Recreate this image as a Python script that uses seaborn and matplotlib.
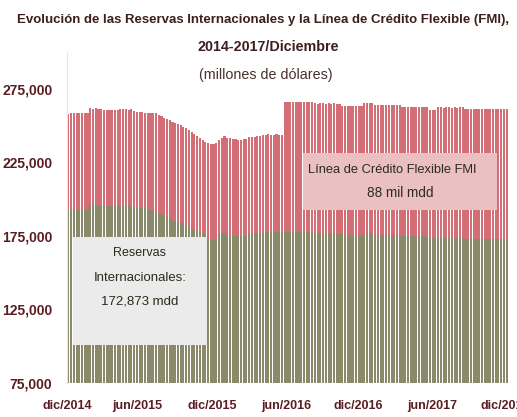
import matplotlib
matplotlib.use("Agg")
import matplotlib.pyplot as plt
import seaborn as sns
import pandas as pd
from matplotlib.patches import Rectangle

# DATOS: semanal, dic/2014 - dic/2017 (millones de dolares)
# reservas internacionales (parte verde)
reservas = [
    192300, 192500, 192600, 192400, 192500, 192700, 192400, 192600,
    196200, 196400, 196300, 196100, 196300,
    195500, 195300, 195400, 195600, 195200, 195400, 195500, 195300, 195600, 195400, 195200,
    194300, 194100, 194000, 194200, 193900,
    193100, 192600, 192000,
    191400, 190600,
    189600, 188600, 187800,
    186900, 186000, 185300,
    184700, 183800,
    182800, 181600, 180600,
    179600, 178800, 178000,
    177300, 176600, 176300,
    172600, 172400, 172500, 172700,
    176500, 176900, 176700,
    175500, 175200, 175100, 175000, 175200, 175100, 174900, 175100,
    176700, 176900, 177000, 176800, 176900, 177100,
    177600, 177800, 177900, 177700, 177800, 178000, 177900,
    177600, 177700, 177500, 177800, 177600, 177400, 177500, 177700, 177300,
    177200, 177400, 177100, 177000, 177200, 176900, 176800, 177000, 176700,
    176500, 176400, 176600, 176200,
    175400, 175300, 175200, 175400, 175100, 175300, 175200,
    176800, 176900, 176700, 176500,
    175900, 175800, 175700, 175900, 175800, 175600, 175700, 175500, 175600, 175400,
    174900, 174700, 174800, 174600, 174700, 174500, 174600, 174800, 174600, 174400,
    173700, 173500, 173600, 173400, 173500, 173300, 173600, 173500, 173400, 173200,
    173300, 173500, 173400, 173200, 173100, 173300, 173200, 173000, 173100, 173200,
    173000, 172900, 173100, 173000, 172800, 172900, 173000, 172900, 172873,
]

# reservas + linea de credito flexible (tope de la barra roja)
total_lcf = [
    258100, 258300, 258400, 258300, 258200, 258400, 258300, 258500,
    261600, 261500, 261700, 261400, 261500,
    260600, 260400, 260500, 260700, 260300, 260500,
    261100, 260900, 261200, 260800, 261000,
    259600, 259400, 259300,
    258900, 258700, 258800, 258600, 258500, 258300,
    257400, 256500, 255400, 254600,
    253600, 252600, 251500,
    250800, 250000,
    249000, 248000, 246900,
    245700, 244500, 243100,
    241600, 240200, 239000,
    238000, 237600, 237500, 237800,
    240300, 241800, 242600,
    241800, 241200, 240900,
    240500, 240400, 240300, 240500, 240600,
    241900, 242200, 242400,
    242800, 243100,
    243700, 243800, 243900, 243800, 243700, 243900, 243800, 243700,
    266000, 266200, 266100, 266300, 266000, 266100, 266200, 265900, 266100, 266000, 265800,
    265100, 264900, 265000, 265200, 264800, 265000, 264900, 265100, 264800, 264700,
    263300, 263100, 263200, 263000, 263300, 263200, 263100, 263000,
    265500, 265300, 265400, 265200,
    264000, 263900, 263800, 264000, 263900, 263700, 263800, 263900, 263700, 263600,
    262900, 262800, 262700, 262900, 262800, 262600, 262800, 262700, 262900, 262700,
    260600, 260400, 260500,
    262400, 262300, 262200, 262400, 262300, 262100, 262300, 262200, 262400, 262300,
    261300, 261200, 261100, 261300, 261200, 261000, 261200, 261100, 261300, 261200,
    261100, 261000, 261200, 261100, 261300, 261200,
]

x_tick_pos = [-0.5, 25, 52.5, 79.5, 106, 133, 159.5]
x_tick_labels = ["dic/2014", "jun/2015", "dic/2015", "jun/2016", "dic/2016", "jun/2017", "dic/2017"]
y_ticks = [75000, 125000, 175000, 225000, 275000]

ROJO = "#D46E76"
VERDE = "#8A8A6A"
MARRON = "#5A1E22"
TEXTO = "#2C2A1A"

df = pd.DataFrame({"semana": list(range(len(reservas))),
                   "reservas": reservas,
                   "total": total_lcf})

sns.set_style("white")
plt.rcParams["font.family"] = ["Liberation Sans", "DejaVu Sans"]

fig = plt.figure(figsize=(5.17, 4.17), dpi=100)
ax = fig.add_axes([0.1296, 0.0815, 0.853, 0.794])

sns.barplot(data=df, x="semana", y="total", color=ROJO, saturation=1,
            width=0.78, linewidth=0, ax=ax)
sns.barplot(data=df, x="semana", y="reservas", color=VERDE, saturation=1,
            width=0.78, linewidth=0, ax=ax)

ax.set_ylim(75000, 300000)
ax.set_xlim(-0.5, len(reservas) - 0.5)
ax.set_yticks(y_ticks)
ax.set_yticklabels([f"{v:,}" for v in y_ticks])
ax.set_xticks(x_tick_pos)
ax.set_xticklabels(x_tick_labels)
ax.tick_params(axis="y", length=0, labelsize=10, colors=MARRON, pad=10.5)
ax.tick_params(axis="x", length=0, labelsize=9, colors=MARRON, pad=12)
for lbl in ax.get_xticklabels() + ax.get_yticklabels():
    lbl.set_fontweight("bold")
ax.set_xlabel("")
ax.set_ylabel("")
for s in ["top", "right", "bottom"]:
    ax.spines[s].set_visible(False)
ax.spines["left"].set_color("#F2E2E2")
ax.spines["left"].set_linewidth(0.8)

# cuadros de texto
ax.add_patch(Rectangle((0.0136, 0.115), 0.304, 0.326, transform=ax.transAxes,
                       facecolor="#EBEBEB", edgecolor="none", zorder=5))
ax.add_patch(Rectangle((0.5351, 0.523), 0.44, 0.172, transform=ax.transAxes,
                       facecolor="#EBC0C3", edgecolor="none", zorder=5))

textos = []  # (objeto texto, ancho en px del original)
t = ax.text(0.1655, 0.393, "Reservas", transform=ax.transAxes, ha="center", va="center",
            fontsize=9, color=TEXTO, zorder=6)
textos.append((t, 53))
t = ax.text(0.1655, 0.318, "Internacionales:", transform=ax.transAxes, ha="center", va="center",
            fontsize=9, color=TEXTO, zorder=6)
textos.append((t, 93))
t = ax.text(0.1655, 0.245, "172,873 mdd", transform=ax.transAxes, ha="center", va="center",
            fontsize=9, color=TEXTO, zorder=6)
textos.append((t, 77))
t = ax.text(0.737, 0.643, "Línea de Crédito Flexible FMI", transform=ax.transAxes,
            ha="center", va="center", fontsize=9, color=TEXTO, zorder=6)
textos.append((t, 169))
t = ax.text(0.755, 0.574, "88 mil mdd", transform=ax.transAxes,
            ha="center", va="center", fontsize=9, color=TEXTO, zorder=6)
textos.append((t, 66))

# titulo
t = fig.text(0.509, 0.952, "Evolución de las Reservas Internacionales y la Línea de Crédito Flexible (FMI),",
             ha="center", va="center", fontsize=9, fontweight="bold", color="#3E1E1E")
textos.append((t, 493))
t = fig.text(0.518, 0.887, "2014-2017/Diciembre", ha="center", va="center",
             fontsize=9, fontweight="bold", color="#3E1E1E")
textos.append((t, 141))
t = fig.text(0.515, 0.820, "(millones de dólares)", ha="center", va="center",
             fontsize=9, color="#4A3030")
textos.append((t, 133))

# ajustar tamaños al ancho que tienen en la imagen original
fig.canvas.draw()
for t, ancho in textos:
    w = t.get_window_extent().width
    t.set_fontsize(t.get_fontsize() * ancho / w)

fig.savefig("out.png", dpi=100)
